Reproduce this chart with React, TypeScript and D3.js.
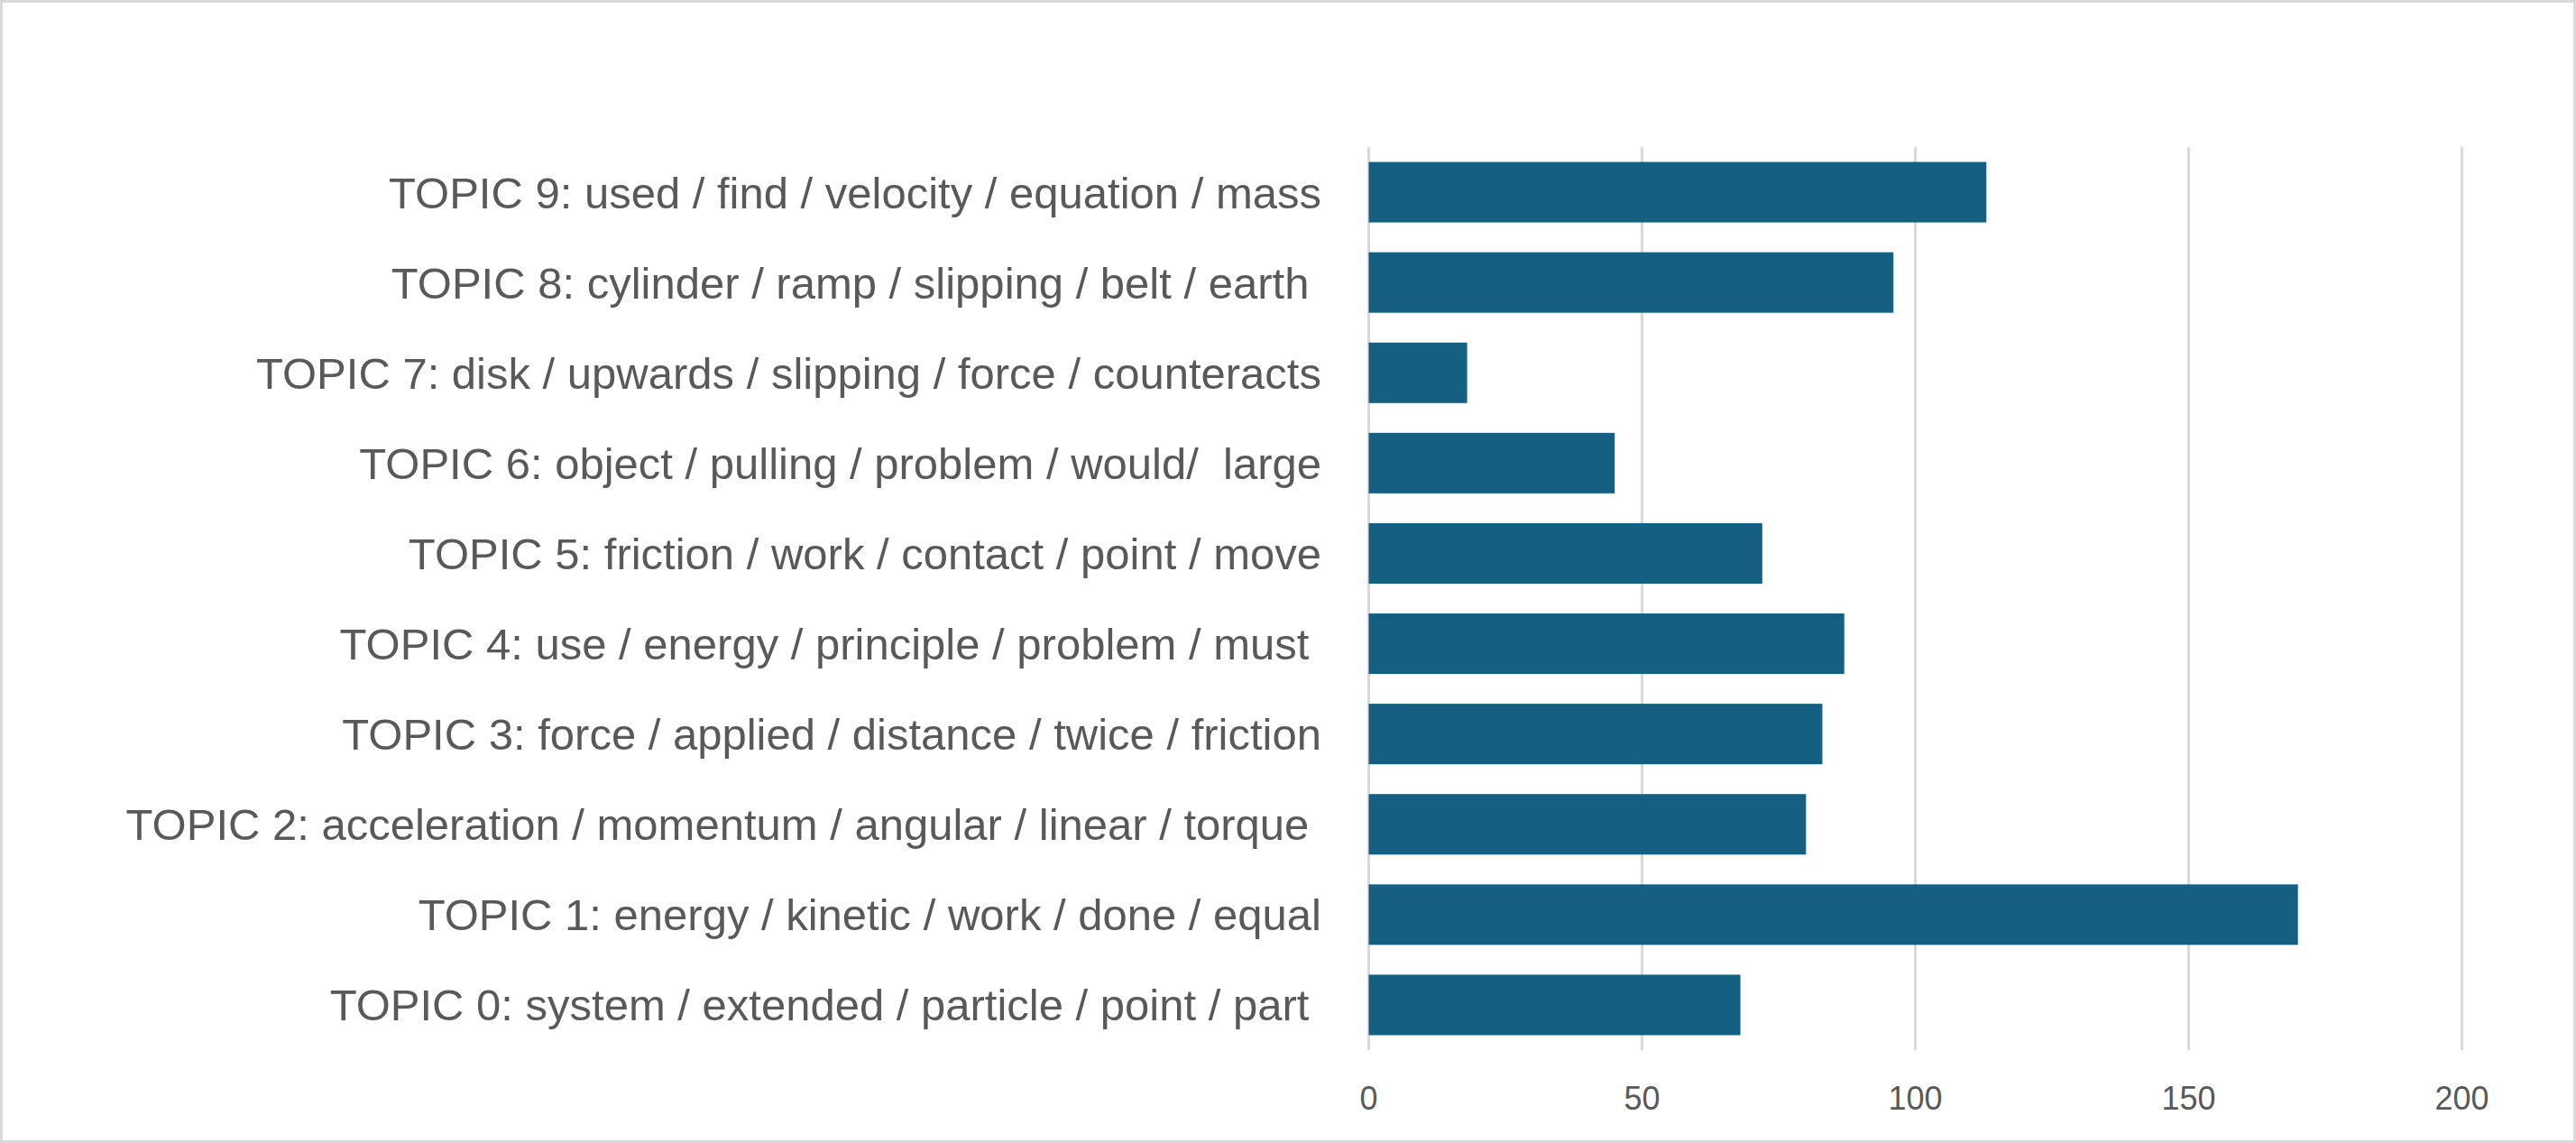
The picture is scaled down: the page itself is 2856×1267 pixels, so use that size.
import React from "react";
import * as d3 from "d3";

const topics = [
  "TOPIC 0: system / extended / particle / point / part ",
  "TOPIC 1: energy / kinetic / work / done / equal",
  "TOPIC 2: acceleration / momentum / angular / linear / torque ",
  "TOPIC 3: force / applied / distance / twice / friction",
  "TOPIC 4: use / energy / principle / problem / must ",
  "TOPIC 5: friction / work / contact / point / move",
  "TOPIC 6: object / pulling / problem / would/  large",
  "TOPIC 7: disk / upwards / slipping / force / counteracts",
  "TOPIC 8: cylinder / ramp / slipping / belt / earth ",
  "TOPIC 9: used / find / velocity / equation / mass",
];
const counts = [68, 170, 80, 83, 87, 72, 45, 18, 96, 113];
const xTicks = [0, 50, 100, 150, 200];

const W = 2856;
const H = 1267;
const plotLeft = 1517.5;
const plotRight = 2729.5;
const plotTop = 163;
const plotBottom = 1164;
const FONT = "'Liberation Sans', Arial, sans-serif";
const TEXT = "#595959";
const BAR = "#156082";
const GRID = "#D9D9D9";

export default function App() {
  const x = d3.scaleLinear().domain([0, 200]).range([plotLeft, plotRight]);
  const y = d3
    .scaleBand<string>()
    .domain([...topics].reverse())
    .range([plotTop, plotBottom])
    .paddingInner(0.33)
    .paddingOuter(0.165);
  const bw = y.bandwidth();

  return (
    <svg
      width={W}
      height={H}
      style={{ position: "absolute", left: 0, top: 0, display: "block" }}
    >
      <rect x={0} y={0} width={W} height={H} fill="#fff" />
      <rect
        x={1.5}
        y={1.5}
        width={W - 3}
        height={H - 3}
        fill="none"
        stroke={GRID}
        strokeWidth={3}
      />
      {xTicks.map((t) => (
        <line
          key={"g" + t}
          x1={x(t)}
          x2={x(t)}
          y1={plotTop}
          y2={plotBottom}
          stroke={GRID}
          strokeWidth={3}
        />
      ))}
      {topics.map((t, i) => (
        <rect
          key={"b" + i}
          x={x(0)}
          y={y(t)}
          width={x(counts[i]) - x(0)}
          height={bw}
          fill={BAR}
        />
      ))}
      {topics.map((t) => (
        <text
          key={"l" + t}
          x={1465}
          y={(y(t) as number) + bw / 2 + 17.5}
          textAnchor="end"
          fontFamily={FONT}
          fontSize={49}
          fill={TEXT}
          style={{ whiteSpace: "pre" }}
        >
          {t}
        </text>
      ))}
      {xTicks.map((t) => (
        <text
          key={"t" + t}
          x={x(t)}
          y={1230}
          textAnchor="middle"
          fontFamily={FONT}
          fontSize={36}
          fill={TEXT}
        >
          {t}
        </text>
      ))}
    </svg>
  );
}
